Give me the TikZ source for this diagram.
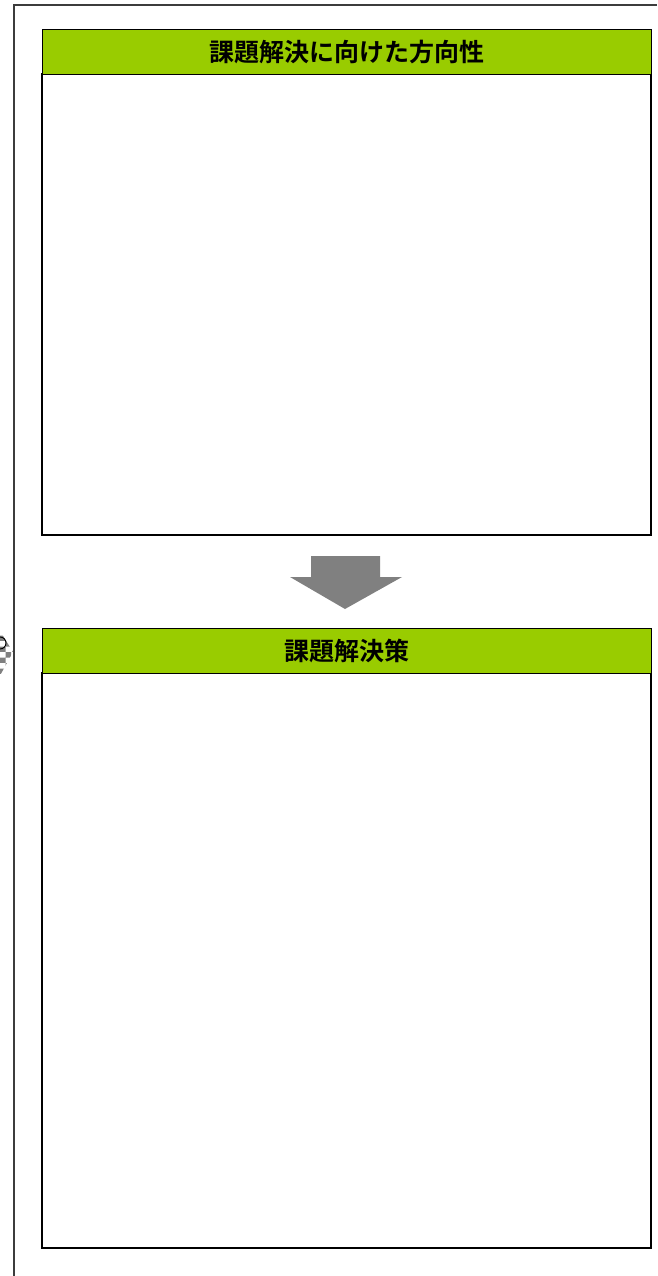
\documentclass[tikz,border=0pt]{standalone}
\usepackage{fontspec}
\newfontfamily\cjk{Noto Sans CJK JP Bold}
\usetikzlibrary{patterns}
\definecolor{hdrgreen}{RGB}{153,204,0}
\definecolor{arrowgray}{RGB}{128,128,128}
\definecolor{framegray}{RGB}{60,60,60}
\tikzset{
  hdr/.style={draw=black, line width=1.3pt, fill=hdrgreen, minimum width=609pt, minimum height=45pt, inner sep=0pt, font=\cjk\fontsize{25}{25}\selectfont},
  bodybox/.style={draw=black, line width=1.3pt, fill=white},
}
\begin{document}
\begin{tikzpicture}[x=1pt,y=-1pt]
\useasboundingbox (0,0) rectangle (657,1276);
% outer frame
\coordinate (ftr) at (657,5);
\coordinate (ftl) at (14,5);
\coordinate (fbl) at (14,1276);
\draw[framegray, line width=1.3pt] (ftr) -- (ftl) -- (fbl);
% hatched diamond at left edge
\fill[pattern=checkerboard, pattern color=gray] (-8,618) -- (13,652) -- (-8,690) -- cycle;
\draw[line width=0.9pt] (0,637) arc[start angle=-90, end angle=90, radius=6];
% box 1
\draw[bodybox] (42,74) rectangle (651,535);
\node[hdr, anchor=north west] (h1) at (42,29) {課題解決に向けた方向性};
% arrow
\fill[arrowgray] (311,556) -- (380,556) -- (380,577) -- (402,577) -- (345,609) -- (290,577) -- (311,577) -- cycle;
% box 2
\draw[bodybox] (42,673) rectangle (651,1248);
\node[hdr, anchor=north west] (h2) at (42,628) {課題解決策};
\end{tikzpicture}
\end{document}
